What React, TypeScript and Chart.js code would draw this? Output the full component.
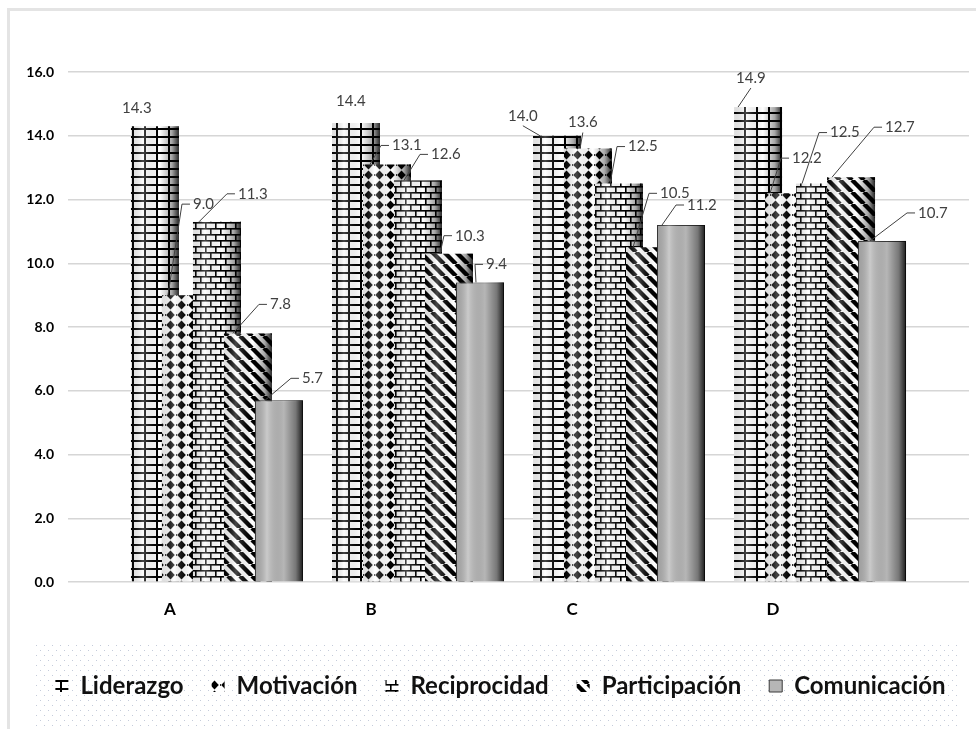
import React, { useEffect, useRef } from 'react';
import { Chart, registerables } from 'chart.js';

Chart.register(...registerables);

// ---- data ----
const categories = ['A', 'B', 'C', 'D'];
const seriesNames = ['Liderazgo', 'Motivación', 'Reciprocidad', 'Participación', 'Comunicación'];
const liderazgo = [14.3, 14.4, 14.0, 14.9];
const motivacion = [9.0, 13.1, 13.6, 12.2];
const reciprocidad = [11.3, 12.6, 12.5, 12.5];
const participacion = [7.8, 10.3, 10.5, 12.7];
const comunicacion = [5.7, 9.4, 11.2, 10.7];
const yMin = 0;
const yMax = 16;
const yStep = 2;

// ---- label placement (relative to bar top-left): [dx, dy, leaderAttachDx, kind] ----
// kind: 0 = no leader, 1 = leader to the left of the text, 2 = leader to text bottom
const labelLayout: number[][][] = [
  [[-9, -18, 0, 0], [4, -22, 0, 0], [-25, -20, 7, 2], [2, -29, 4, 2]],
  [[31, -91, 6, 1], [29, -19, 7, 1], [4, -26, 16, 2], [27, -35, 5, 1]],
  [[45, -28, 6, 1], [37, -26, 10, 1], [33, -37, 15, 1], [34, -51, 6, 1]],
  [[46, -29, 9, 1], [30, -18, 15, 1], [34, -54, 7, 1], [58, -50, 5, 1]],
  [[47, -22, 10, 1], [30, -18, 20, 1], [30, -20, 5, 1], [60, -28, 12, 1]],
];

function makePattern(w: number, h: number, draw: (c: CanvasRenderingContext2D) => void, bg = '#ffffff') {
  const c = document.createElement('canvas');
  c.width = w;
  c.height = h;
  const x = c.getContext('2d')!;
  if (bg) {
    x.fillStyle = bg;
    x.fillRect(0, 0, w, h);
  }
  draw(x);
  return x.createPattern(c, 'repeat')!;
}

function shadeBar(ctx: CanvasRenderingContext2D, el: any) {
  const { x, y, width, base } = el.getProps(['x', 'y', 'width', 'base'], true);
  const left = x - width / 2;
  const g = ctx.createLinearGradient(left, 0, left + width, 0);
  g.addColorStop(0, 'rgba(0,0,0,0.12)');
  g.addColorStop(0.25, 'rgba(255,255,255,0.28)');
  g.addColorStop(0.6, 'rgba(0,0,0,0)');
  g.addColorStop(0.85, 'rgba(0,0,0,0.35)');
  g.addColorStop(1, 'rgba(0,0,0,0.85)');
  ctx.save();
  ctx.fillStyle = g;
  ctx.fillRect(left, y, width, base - y);
  ctx.restore();
}

function drawLabels(chart: any) {
  const ctx: CanvasRenderingContext2D = chart.ctx;
  ctx.save();
  ctx.font = '15px Lato';
  ctx.fillStyle = '#404040';
  ctx.strokeStyle = '#404040';
  ctx.lineWidth = 1;
  ctx.textBaseline = 'middle';
  ctx.textAlign = 'left';
  chart.getSortedVisibleDatasetMetas().forEach((meta: any) => {
    const layout = labelLayout[meta.index];
    meta.data.forEach((el: any, j: number) => {
      const { x, y, width } = el.getProps(['x', 'y', 'width'], true);
      const bx = x - width / 2;
      const [dx, dy, ax, kind] = layout[j];
      const v = meta.controller.getParsed(j).y;
      const text = v.toFixed(1);
      const tx = bx + dx;
      const ty = y + dy;
      const tw = ctx.measureText(text).width;
      if (kind === 1) {
        ctx.beginPath();
        ctx.moveTo(bx + ax, y);
        ctx.lineTo(tx - 11, ty);
        ctx.lineTo(tx - 3, ty);
        ctx.stroke();
      } else if (kind === 2) {
        ctx.beginPath();
        ctx.moveTo(bx + ax, y);
        ctx.lineTo(tx + tw / 2, ty + 10);
        ctx.stroke();
      }
      ctx.fillText(text, tx, ty);
    });
  });
  ctx.restore();
}

export default function App() {
  const ref = useRef<HTMLCanvasElement>(null);

  useEffect(() => {
    const canvas = ref.current!;
    const gridPat = makePattern(12, 8, (c) => {
      c.fillStyle = '#000';
      c.fillRect(0, 0, 2, 8);
      c.fillRect(0, 0, 12, 2);
    });
    const diamondPat = makePattern(11, 10, (c) => {
      c.fillStyle = '#000';
      c.beginPath();
      c.moveTo(5.5, 0.6);
      c.lineTo(9.8, 5);
      c.lineTo(5.5, 9.4);
      c.lineTo(1.2, 5);
      c.closePath();
      c.fill();
      c.fillRect(0, 4.2, 1, 1.6);
    });
    const brickPat = makePattern(10, 12, (c) => {
      c.fillStyle = '#000';
      c.fillRect(0, 0, 10, 1.6);
      c.fillRect(0, 6, 10, 1.6);
      c.fillRect(0, 0, 1.6, 6);
      c.fillRect(5, 6, 1.6, 6);
    });
    const stripePat = makePattern(12, 12, (c) => {
      c.strokeStyle = '#000';
      c.lineWidth = 4.4;
      for (const o of [-12, 0, 12]) {
        c.beginPath();
        c.moveTo(o, 0);
        c.lineTo(o + 12, 12);
        c.stroke();
      }
    });
    const dotPat = makePattern(8, 10, (c) => {
      c.fillStyle = '#c4cbda';
      c.fillRect(0, 0, 1, 1);
      c.fillRect(4, 5, 1, 1);
    }, '');

    const fills: any[] = [gridPat, diamondPat, brickPat, stripePat, '#b6b6b6'];
    const values = [liderazgo, motivacion, reciprocidad, participacion, comunicacion];

    const datasets = seriesNames.map((name, i) => ({
      label: name,
      data: values[i].map((v, j) => ({ x: j, y: v })),
      backgroundColor: fills[i],
      borderColor: i === 4 ? '#3a3a3a' : 'rgba(0,0,0,0)',
      borderWidth: i === 4 ? 1 : 0,
      borderSkipped: 'bottom' as const,
      categoryPercentage: 0.771,
      barPercentage: 1.548,
    }));

    const decor = {
      id: 'decor',
      afterLayout(chart: any) {
        const lg = chart.legend;
        if (lg) {
          lg.left += 11;
          lg.right += 11;
        }
      },
      beforeDraw(chart: any) {
        const ctx: CanvasRenderingContext2D = chart.ctx;
        ctx.save();
        ctx.fillStyle = '#e4e4e4';
        ctx.fillRect(7, 8, chart.width - 7, 3);
        ctx.fillRect(7, 8, 3, chart.height - 8);
        const lg = chart.legend;
        ctx.fillStyle = dotPat;
        ctx.fillRect(35, lg.top - 4, chart.chartArea.right - 9 - 35, chart.height - lg.top + 4);
        ctx.restore();
      },
    };

    const order = {
      id: 'barOrder',
      beforeDatasetsDraw(chart: any) {
        const metas = chart.getSortedVisibleDatasetMetas();
        metas.forEach((meta: any) => {
          meta.controller.draw();
          meta.data.forEach((el: any) => shadeBar(chart.ctx, el));
        });
        drawLabels(chart);
        return false;
      },
    };

    const chart = new Chart(canvas, {
      type: 'bar',
      data: { datasets: datasets as any },
      plugins: [decor, order],
      options: {
        responsive: false,
        animation: false,
        layout: { padding: { left: 10, right: 7, top: 72, bottom: 21 } },
        plugins: {
          tooltip: { enabled: false },
          legend: {
            position: 'bottom',
            labels: {
              boxWidth: 13,
              boxHeight: 12,
              padding: 28,
              color: '#111',
              font: { family: 'Lato', size: 24, weight: 'bold' },
            },
          },
        },
        scales: {
          x: {
            type: 'linear',
            min: -0.741,
            max: 3.741,
            offset: false,
            grid: { display: false, drawTicks: false, offset: false },
            border: { display: false },
            afterFit: (s: any) => {
              s.height = 64;
            },
            ticks: {
              stepSize: 1,
              includeBounds: false,
              autoSkip: false,
              maxRotation: 0,
              padding: 17,
              labelOffset: -47,
              color: '#000',
              font: { family: 'Lato', size: 17, weight: 'bold' },
              callback: (v: any) => (Number.isInteger(v) && categories[v as number] !== undefined ? categories[v as number] : ''),
            },
          },
          y: {
            min: yMin,
            max: yMax,
            grid: { color: '#d6d6d6', lineWidth: 1.5, drawTicks: false },
            border: { display: false },
            afterFit: (s: any) => {
              s.width = 58;
            },
            ticks: {
              stepSize: yStep,
              padding: 14,
              color: '#000',
              font: { family: 'Lato', size: 14, weight: 'bold' },
              callback: (v: any) => Number(v).toFixed(1),
            },
          },
        },
      } as any,
    });
    return () => chart.destroy();
  }, []);

  return (
    <div style={{ position: 'absolute', left: 0, top: 0, width: 976, height: 729 }}>
      <canvas ref={ref} width={976} height={729} style={{ display: 'block' }} />
    </div>
  );
}
